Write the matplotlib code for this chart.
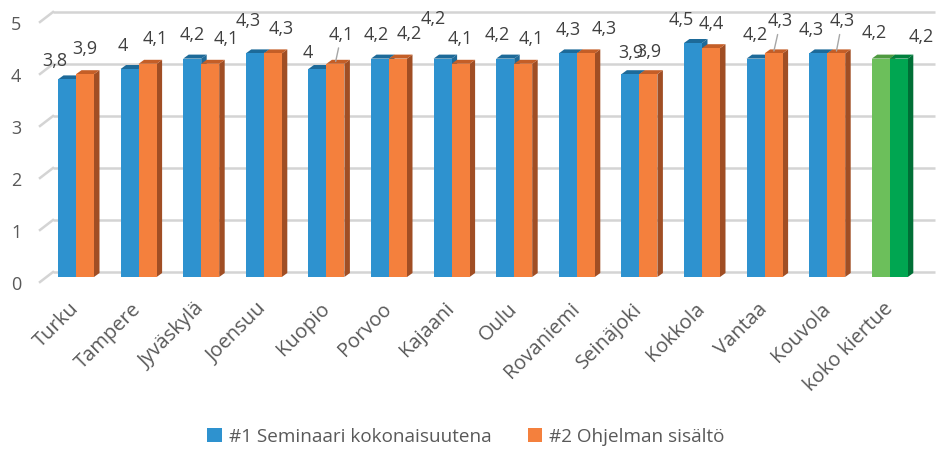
import matplotlib
matplotlib.use("Agg")
import matplotlib.pyplot as plt
from matplotlib.patches import Polygon, Patch
from matplotlib.transforms import ScaledTranslation

plt.rcParams['font.family'] = ['Open Sans', 'DejaVu Sans']

categories = ["Turku", "Tampere", "Jyväskylä", "Joensuu", "Kuopio", "Porvoo", "Kajaani",
              "Oulu", "Rovaniemi", "Seinäjoki", "Kokkola", "Vantaa", "Kouvola", "koko kiertue"]
series1 = [3.8, 4.0, 4.2, 4.3, 4.0, 4.2, 4.2, 4.2, 4.3, 3.9, 4.5, 4.2, 4.3, 4.2]
series2 = [3.9, 4.1, 4.1, 4.3, 4.1, 4.2, 4.1, 4.1, 4.3, 3.9, 4.4, 4.3, 4.3, 4.2]
series_names = ["#1 Seminaari kokonaisuutena", "#2 Ohjelman sisältö"]
yticks = [0, 1, 2, 3, 4, 5]

# label placement offsets (pixels, relative to bar top centre)
off1 = [(-12, 18), (-7, 23), (0, 24), (-7, 32), (-10, 16), (-4, 24), (-9, 40),
        (-8, 24), (0, 23), (0, 21), (-12, 23), (0, 24), (-7, 23), (-7, 26)]
off2 = [(0, 24), (8, 24), (16, 24), (8, 23), (6, 28), (11, 24), (0, 24),
        (8, 24), (18, 23), (0, 21), (0, 23), (7, 31), (6, 31), (22, 21)]
leader2 = [False, False, False, False, True, False, False, False, False, False, False, True, True, False]

W, H = 940, 450
fig = plt.figure(figsize=(W / 100, H / 100), dpi=100)
px_x = 62.6   # pixels per category
px_y = 52.0   # pixels per unit
left_px, right_px = 45, 935
bottom_px = 277
x0 = -(76 - left_px) / px_x
x1 = x0 + (right_px - left_px) / px_x
ax = fig.add_axes([left_px / W, (H - bottom_px) / H, (right_px - left_px) / W, 5 * px_y / H])
ax.set_xlim(x0, x1)
ax.set_ylim(0, 5)
for s in ax.spines.values():
    s.set_visible(False)

# grid lines (back wall) with small diagonal at left
gb = 5 / px_y
gf = -5 / px_y
for v in yticks:
    ax.plot([x0 + 8 / px_x, x1], [v + gb, v + gb], color="#D4D4D4", lw=1.8,
            clip_on=False, zorder=0, solid_capstyle="butt")
    ax.plot([x0 - 5 / px_x, x0 + 8 / px_x], [v + gf, v + gb], color="#D4D4D4", lw=1.8,
            clip_on=False, zorder=0)

w = 18 / px_x
ddx = 5.5 / px_x
ddy = 4.0 / px_y

cols1 = dict(front="#2E92CF", top="#1D6A99", side="#1F6A98")
cols2 = dict(front="#F4803D", top="#C45E27", side="#A04E24")
colsg1 = dict(front="#6CBF5B", top="#4E9A40", side="#4A8F3E")
colsg2 = dict(front="#00A651", top="#00803D", side="#006F36")

def bar3d(xc, v, c, z):
    xl, xr = xc - w / 2, xc + w / 2
    ax.add_patch(Polygon([(xr, 0), (xr + ddx, ddy), (xr + ddx, v + ddy), (xr, v)],
                         closed=True, fc=c["side"], ec="none", zorder=z, clip_on=False))
    ax.add_patch(Polygon([(xl, v), (xl + ddx, v + ddy), (xr + ddx, v + ddy), (xr, v)],
                         closed=True, fc=c["top"], ec="none", zorder=z, clip_on=False))
    ax.bar([xc], [v], width=w, color=c["front"], zorder=z + 0.1, clip_on=False)

n = len(categories)
for i in range(n):
    last = (i == n - 1)
    c1 = colsg1 if last else cols1
    c2 = colsg2 if last else cols2
    bar3d(i - w / 2, series1[i], c1, 2 + i * 0.01)
    bar3d(i + w / 2, series2[i], c2, 3 + i * 0.01)

def fmt(v):
    return f"{v:g}".replace(".", ",")

for i in range(n):
    xb = i - w / 2
    xo = i + w / 2
    ax.annotate(fmt(series1[i]), xy=(xb, series1[i]), xytext=off1[i], textcoords="offset pixels",
                ha="center", va="center", fontsize=13, color="#404040", zorder=10,
                annotation_clip=False)
    ap = dict(arrowstyle="-", color="#A6A6A6", lw=1.0, shrinkA=1, shrinkB=1) if leader2[i] else None
    ax.annotate(fmt(series2[i]), xy=(xo, series2[i] + 0.02), xytext=off2[i], textcoords="offset pixels",
                ha="center", va="center", fontsize=13, color="#404040", zorder=11,
                annotation_clip=False, arrowprops=ap)

ax.set_yticks(yticks)
ax.set_yticklabels([str(t) for t in yticks], fontsize=13, color="#595959")
ax.tick_params(axis="y", length=0, pad=17)
for lab in ax.get_yticklabels():
    lab.set_transform(lab.get_transform() + ScaledTranslation(0, -6 / 100, fig.dpi_scale_trans))

ax.set_xticks(range(n))
ax.set_xticklabels(categories, rotation=45, ha="right", va="top", rotation_mode="anchor",
                   fontsize=14.5, color="#595959")
ax.tick_params(axis="x", length=0, pad=18)
for lab in ax.get_xticklabels():
    lab.set_transform(lab.get_transform() + ScaledTranslation(-7 / 100, 3 / 100, fig.dpi_scale_trans))

handles = [Patch(facecolor=cols1["front"]), Patch(facecolor=cols2["front"])]
leg = fig.legend(handles, series_names, loc="center", bbox_to_anchor=(466 / W, 1 - 437 / H),
                 ncol=2, frameon=False, handlelength=0.75, handleheight=0.75, handletextpad=0.4,
                 columnspacing=1.9, prop={"size": 13.6})
for t in leg.get_texts():
    t.set_color("#595959")

fig.savefig("out.png", dpi=100)
